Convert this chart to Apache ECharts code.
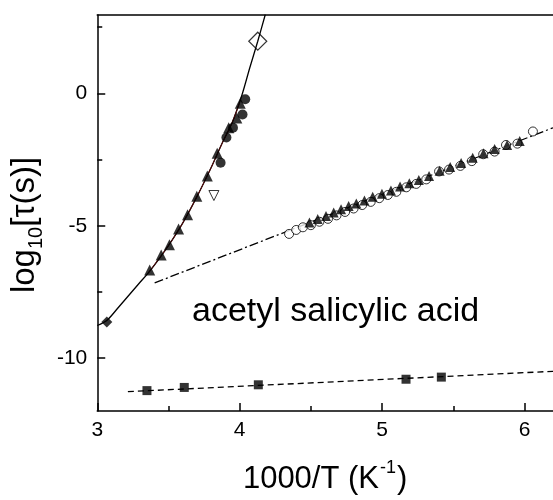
<!DOCTYPE html>
<html>
<head>
<meta charset="utf-8">
<script src="https://cdn.jsdelivr.net/npm/echarts@6/dist/echarts.min.js"></script>
<style>
html,body{margin:0;padding:0;background:#fff;}
#chart{width:553px;height:500px;}
</style>
</head>
<body>
<div id="chart"></div>
<script>
// ---- axis ticks ----
const xMajorTicks = [3, 4, 5, 6];
const xMinorTicks = [3.5, 4.5, 5.5];
const yMajorTicks = [-10, -5, 0];
const yMinorTicks = [-7.5, -2.5, 2.5];

// ---- data (1000/T, log10 tau) ----
const fitCurve = [
  [3.00, -8.77], [3.067, -8.58], [3.148, -8.09], [3.287, -7.22], [3.356, -6.80],
  [3.40, -6.50], [3.50, -5.75], [3.60, -4.90], [3.70, -3.90], [3.80, -2.80],
  [3.88, -1.85], [3.946, -1.12], [4.016, -0.06], [4.07, 0.95], [4.127, 1.97], [4.18, 2.98]
];
const redFit = [
  [3.36, -6.77], [3.50, -5.75], [3.60, -4.90], [3.70, -3.90], [3.80, -2.80],
  [3.88, -1.85], [3.946, -1.12], [4.00, -0.35]
];
const dashDotFit = [[3.403, -7.16], [6.20, -1.30]];
const dashedFit = [[3.215, -11.27], [6.20, -10.50]];

const filledDiamond = [[3.067, -8.64]];
const openDiamond = [[4.127, 1.97]];
const openDownTriangle = [[3.819, -3.86]];

const steepTriangles = [
  [3.368, -6.67], [3.449, -6.11], [3.507, -5.72], [3.571, -5.12], [3.634, -4.59],
  [3.699, -3.89], [3.773, -3.12], [3.842, -2.26], [3.923, -1.30], [3.980, -0.93], [4.004, -0.37]
];
const steepCircles = [
  [4.039, -0.22], [4.020, -0.80], [3.953, -1.30], [3.907, -1.67], [3.866, -2.62]
];

const clusterCircles = [
  [4.347, -5.31], [4.397, -5.16], [4.444, -5.06], [4.50, -4.98], [4.56, -4.85],
  [4.62, -4.74], [4.68, -4.61], [4.74, -4.48], [4.80, -4.35], [4.86, -4.22],
  [4.92, -4.10], [4.98, -3.96], [5.04, -3.84], [5.10, -3.72], [5.17, -3.55],
  [5.24, -3.42], [5.31, -3.25], [5.40, -2.95], [5.47, -2.88], [5.55, -2.74],
  [5.63, -2.56], [5.71, -2.30], [5.79, -2.20], [5.87, -1.95], [5.95, -1.90], [6.059, -1.44]
];
const clusterTriangles = [
  [4.490, -4.88], [4.548, -4.75], [4.606, -4.63], [4.660, -4.50], [4.712, -4.38],
  [4.765, -4.26], [4.819, -4.16], [4.876, -4.05], [4.934, -3.91], [4.999, -3.79],
  [5.062, -3.67], [5.126, -3.52], [5.191, -3.40], [5.258, -3.27], [5.330, -3.12],
  [5.404, -2.92], [5.478, -2.78], [5.555, -2.63], [5.636, -2.43], [5.712, -2.26],
  [5.790, -2.10], [5.878, -1.95], [5.966, -1.80]
];
const squares = [
  [3.349, -11.23], [3.611, -11.11], [4.131, -11.01], [5.168, -10.80], [5.416, -10.72]
];

const annotation = 'acetyl salicylic acid';

const FONT = '"Liberation Sans", Arial, sans-serif';
const X_MIN = 3, X_MAX = 6.2, Y_MIN = -12, Y_MAX = 2.96;

const chart = echarts.init(document.getElementById('chart'), null, {renderer: 'canvas'});

const axisLineStyle = {color: '#000', width: 1.5};

const option = {
  backgroundColor: '#fff',
  animation: false,
  grid: {left: 92, right: 0, top: 15, bottom: 82, containLabel: false},
  xAxis: [
    {
      type: 'value', min: X_MIN, max: X_MAX, position: 'bottom',
      axisLine: {show: true, onZero: false, lineStyle: axisLineStyle},
      axisTick: {show: true, inside: true, length: 8, lineStyle: {color: '#000', width: 1.5}, customValues: xMajorTicks},
      axisLabel: {show: true, color: '#000', fontSize: 21, fontFamily: FONT, margin: 9, customValues: xMajorTicks,
        formatter: v => String(v)},
      splitLine: {show: false},
      name: '{a|1000/T (K}{s|-1}{a|)}',
      nameLocation: 'middle', nameGap: 48,
      nameTextStyle: {
        rich: {
          a: {fontSize: 31, fontFamily: FONT, color: '#000', lineHeight: 36, verticalAlign: 'bottom'},
          s: {fontSize: 18, fontFamily: FONT, color: '#000', lineHeight: 36, verticalAlign: 'top', padding: [0, 1, 0, 1]}
        }
      }
    },
    {
      type: 'value', min: X_MIN, max: X_MAX, position: 'bottom',
      axisLine: {show: false, onZero: false},
      axisTick: {show: true, inside: true, length: 5, lineStyle: {color: '#000', width: 1.5}, customValues: xMinorTicks},
      axisLabel: {show: false},
      splitLine: {show: false}
    },
    {
      type: 'value', min: X_MIN, max: X_MAX, position: 'top',
      axisLine: {show: true, onZero: false, lineStyle: axisLineStyle},
      axisTick: {show: false}, axisLabel: {show: false}, splitLine: {show: false}
    }
  ],
  yAxis: [
    {
      type: 'value', min: Y_MIN, max: Y_MAX, position: 'left',
      axisLine: {show: true, onZero: false, lineStyle: axisLineStyle},
      axisTick: {show: true, inside: true, length: 8, lineStyle: {color: '#000', width: 1.5}, customValues: yMajorTicks},
      axisLabel: {show: true, color: '#000', fontSize: 21, fontFamily: FONT, margin: 10, customValues: yMajorTicks,
        formatter: v => String(v)},
      splitLine: {show: false},
      name: '{a|log}{s|10}{a|[τ(s)]}',
      nameLocation: 'middle', nameGap: 41, nameRotate: 90,
      nameTextStyle: {
        padding: [0, 24, 0, 0],
        rich: {
          a: {fontSize: 33, fontFamily: FONT, color: '#000', lineHeight: 38, verticalAlign: 'top'},
          s: {fontSize: 20, fontFamily: FONT, color: '#000', lineHeight: 38, verticalAlign: 'bottom'}
        }
      }
    },
    {
      type: 'value', min: Y_MIN, max: Y_MAX, position: 'left',
      axisLine: {show: false, onZero: false},
      axisTick: {show: true, inside: true, length: 5, lineStyle: {color: '#000', width: 1.5}, customValues: yMinorTicks},
      axisLabel: {show: false},
      splitLine: {show: false}
    }
  ],
  graphic: [
    {
      type: 'text', left: 192, top: 295,
      style: {text: annotation, font: '34px "Liberation Sans", Arial, sans-serif', fill: '#000'}
    }
  ],
  series: [
    {
      type: 'line', data: fitCurve, smooth: 0.3, showSymbol: false, symbol: 'none',
      lineStyle: {color: '#000', width: 1.3}, z: 2
    },
    {
      type: 'line', data: redFit, smooth: 0.3, showSymbol: false, symbol: 'none',
      lineStyle: {color: '#5a0808', width: 1}, z: 3
    },
    {
      type: 'line', data: dashDotFit, showSymbol: false, symbol: 'none',
      lineStyle: {color: '#000', width: 1.3, type: [9, 3, 2, 3]}, z: 2
    },
    {
      type: 'line', data: dashedFit, showSymbol: false, symbol: 'none',
      lineStyle: {color: '#000', width: 1.3, type: [6, 4]}, z: 2
    },
    {
      type: 'scatter', data: squares, symbol: 'rect', symbolSize: 9,
      itemStyle: {color: '#000'}, z: 4
    },
    {
      type: 'scatter', data: filledDiamond, symbol: 'diamond', symbolSize: 11,
      itemStyle: {color: '#000'}, z: 4
    },
    {
      type: 'scatter', data: openDiamond, symbol: 'diamond', symbolSize: 18,
      itemStyle: {color: 'rgba(255,255,255,0)', borderColor: '#000', borderWidth: 1.2}, z: 4
    },
    {
      type: 'scatter', data: openDownTriangle, symbol: 'triangle', symbolRotate: 180, symbolSize: 10,
      itemStyle: {color: '#fff', borderColor: '#000', borderWidth: 1}, z: 4
    },
    {
      type: 'scatter', data: steepCircles, symbol: 'circle', symbolSize: 10,
      itemStyle: {color: '#000'}, z: 4
    },
    {
      type: 'scatter', data: steepTriangles, symbol: 'triangle', symbolSize: 11,
      itemStyle: {color: '#000'}, z: 5
    },
    {
      type: 'scatter', data: clusterCircles, symbol: 'circle', symbolSize: 9,
      itemStyle: {color: '#fff', borderColor: '#000', borderWidth: 1}, z: 4
    },
    {
      type: 'scatter', data: clusterTriangles, symbol: 'triangle', symbolSize: 10,
      itemStyle: {color: '#000'}, z: 5
    }
  ]
};
chart.setOption(option);
</script>
</body>
</html>
